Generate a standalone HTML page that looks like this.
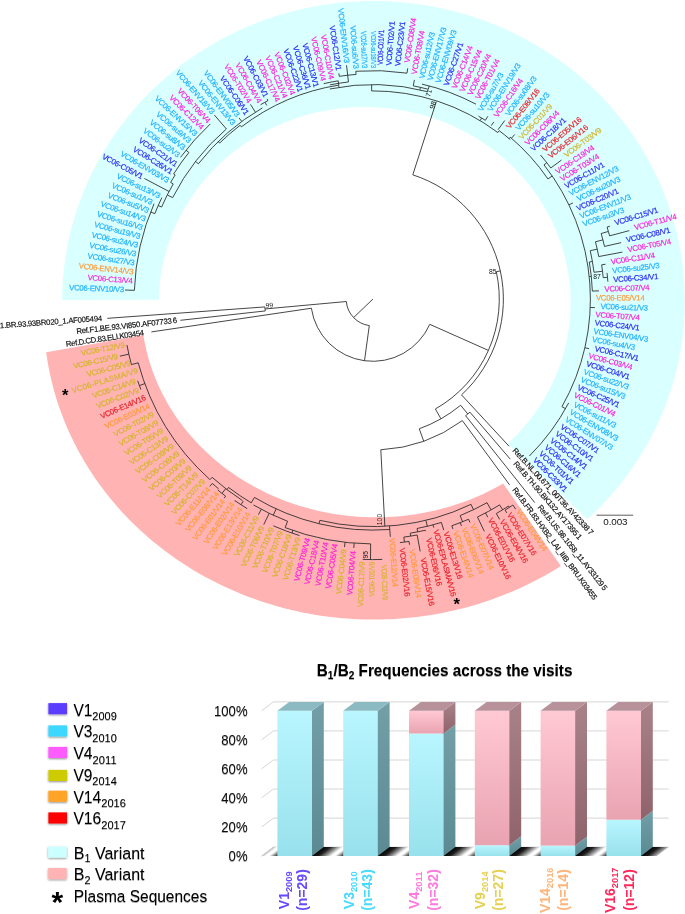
<!DOCTYPE html>
<html><head><meta charset="utf-8"><title>Figure</title>
<style>
html,body{margin:0;padding:0;background:#fff;}
body{width:685px;height:914px;position:relative;overflow:hidden;font-family:"Liberation Sans",sans-serif;}
svg text{font-family:"Liberation Sans",sans-serif;}
</style></head><body>
<svg xmlns="http://www.w3.org/2000/svg" width="685" height="914" viewBox="0 0 685 914" style="position:absolute;left:0;top:0">
<path d="M62.10 299.90L62.31 290.02L62.86 280.15L63.74 270.31L64.96 260.50L66.52 250.73L68.40 241.02L70.62 231.37L73.17 221.80L76.04 212.32L79.23 202.93L82.75 193.65L86.57 184.48L90.71 175.44L95.16 166.54L99.91 157.78L104.95 149.18L110.29 140.74L115.91 132.48L121.81 124.39L127.98 116.51L134.42 108.82L141.12 101.34L148.07 94.07L155.26 87.03L162.69 80.22L170.35 73.66L178.23 67.33L186.32 61.27L194.62 55.46L203.10 49.91L211.78 44.64L220.62 39.65L229.64 34.94L238.81 30.52L248.12 26.40L257.58 22.57L267.15 19.04L276.85 15.82L286.64 12.91L296.54 10.31L306.51 8.03L316.56 6.06L326.67 4.41L336.83 3.09L347.03 2.09L357.26 1.41L367.50 1.06L377.76 1.03L388.00 1.33L398.24 1.95L408.44 2.90L418.61 4.17L428.73 5.76L438.79 7.67L448.78 9.90L458.68 12.45L468.50 15.30L478.21 18.47L487.81 21.95L497.28 25.73L506.62 29.80L515.81 34.17L524.85 38.83L533.73 43.78L542.44 49.00L550.96 54.50L559.28 60.26L567.41 66.28L575.33 72.56L583.02 79.09L590.49 85.86L597.73 92.86L604.72 100.09L611.46 107.53L617.95 115.18L624.16 123.04L630.11 131.09L635.78 139.32L641.16 147.73L646.26 156.31L651.06 165.04L655.55 173.92L659.74 182.94L663.63 192.08L667.19 201.34L670.44 210.72L673.37 220.19L675.97 229.74L678.24 239.38L680.19 249.08L681.80 258.84L683.07 268.64L684.01 278.48L684.62 288.34L684.89 298.22L684.82 308.10L684.41 317.97L683.66 327.83L682.58 337.65L681.16 347.44L679.42 357.18L677.33 366.85L674.92 376.46L672.19 385.98L669.12 395.41L665.74 404.74L662.04 413.95L658.03 423.04L653.71 432.00L649.09 440.82L644.17 449.49L638.95 458.00L633.45 466.33L627.66 474.49L621.60 482.46L615.27 490.23L608.68 497.80L601.83 505.16L594.74 512.29L587.40 519.19L507.63 443.75L512.40 439.23L517.02 434.56L521.47 429.75L525.76 424.80L529.87 419.72L533.81 414.51L537.56 409.19L541.13 403.75L544.51 398.20L547.70 392.55L550.69 386.81L553.48 380.97L556.07 375.05L558.46 369.06L560.63 362.99L562.60 356.86L564.35 350.67L565.89 344.43L567.22 338.14L568.33 331.82L569.22 325.46L569.89 319.08L570.34 312.68L570.57 306.28L570.58 299.87L570.37 293.46L569.93 287.06L569.28 280.68L568.41 274.32L567.32 267.99L566.02 261.71L564.49 255.46L562.76 249.26L560.81 243.13L558.65 237.05L556.28 231.05L553.71 225.13L550.93 219.28L547.96 213.53L544.79 207.87L541.43 202.32L537.87 196.87L534.13 191.53L530.21 186.32L526.11 181.23L521.84 176.27L517.40 171.44L512.80 166.76L508.04 162.22L503.12 157.84L498.06 153.61L492.85 149.53L487.51 145.63L482.03 141.89L476.43 138.32L470.71 134.93L464.88 131.72L458.94 128.70L452.89 125.86L446.75 123.21L440.53 120.75L434.22 118.49L427.84 116.42L421.39 114.56L414.88 112.90L408.32 111.44L401.71 110.18L395.06 109.13L388.38 108.29L381.67 107.66L374.94 107.24L368.21 107.03L361.47 107.02L354.73 107.23L348.01 107.65L341.30 108.27L334.61 109.11L327.96 110.15L321.35 111.40L314.79 112.85L308.28 114.51L301.83 116.37L295.44 118.43L289.13 120.69L282.91 123.14L276.77 125.79L270.72 128.62L264.78 131.64L258.94 134.85L253.21 138.23L247.61 141.79L242.13 145.53L236.78 149.43L231.57 153.50L226.51 157.72L221.59 162.11L216.82 166.64L212.21 171.32L207.77 176.14L203.49 181.10L199.39 186.18L195.47 191.40L191.72 196.73L188.17 202.17L184.80 207.73L181.62 213.38L178.64 219.13L175.86 224.97L173.28 230.90L170.91 236.90L168.75 242.97L166.79 249.10L165.05 255.30L163.52 261.54L162.21 267.83L161.11 274.16L160.24 280.51L159.58 286.89L159.14 293.29L158.93 299.70Z" fill="#d9ffff"/>
<path d="M560.85 565.96L556.17 568.88L551.45 571.71L546.67 574.48L541.84 577.17L536.96 579.78L532.03 582.31L527.06 584.77L522.05 587.15L516.98 589.44L511.88 591.66L506.74 593.80L501.56 595.85L496.34 597.83L491.09 599.72L485.80 601.53L480.48 603.25L475.13 604.89L469.74 606.45L464.34 607.92L458.90 609.30L453.44 610.60L447.95 611.81L442.45 612.94L436.92 613.98L431.38 614.93L425.82 615.79L420.24 616.57L414.65 617.26L409.05 617.86L403.44 618.37L397.82 618.79L392.19 619.13L386.56 619.37L380.92 619.53L375.28 619.60L369.64 619.58L364.00 619.47L358.37 619.27L352.74 618.98L347.11 618.60L341.50 618.14L335.89 617.58L330.29 616.94L324.71 616.21L319.14 615.39L313.59 614.49L308.05 613.49L302.53 612.41L297.04 611.25L291.57 609.99L286.12 608.65L280.69 607.23L275.30 605.72L269.93 604.12L264.59 602.44L259.28 600.68L254.01 598.83L248.78 596.90L243.57 594.89L238.41 592.79L233.29 590.62L228.21 588.36L223.17 586.03L218.17 583.61L213.22 581.12L208.32 578.55L203.46 575.90L198.66 573.18L193.90 570.38L189.20 567.50L184.55 564.55L179.96 561.53L175.42 558.44L170.95 555.28L166.53 552.04L162.17 548.74L157.87 545.37L153.64 541.93L149.47 538.43L145.36 534.86L141.33 531.22L137.36 527.52L133.46 523.76L129.63 519.94L125.87 516.06L122.18 512.13L118.57 508.13L115.03 504.08L111.56 499.97L108.18 495.81L104.87 491.59L101.64 487.32L98.49 483.01L95.42 478.64L92.43 474.23L89.52 469.77L86.69 465.26L83.95 460.71L81.30 456.12L78.72 451.49L76.24 446.82L73.84 442.11L71.53 437.36L69.31 432.57L67.18 427.75L65.13 422.90L63.18 418.02L61.32 413.11L59.54 408.16L57.86 403.20L56.28 398.20L54.78 393.18L53.38 388.14L52.07 383.08L50.85 377.99L49.73 372.89L48.71 367.77L47.78 362.64L46.94 357.49L46.20 352.33L143.35 334.91L143.92 338.40L144.56 341.89L145.26 345.37L146.03 348.84L146.86 352.29L147.76 355.73L148.72 359.16L149.74 362.57L150.83 365.97L151.98 369.35L153.19 372.71L154.46 376.06L155.80 379.38L157.19 382.69L158.65 385.97L160.17 389.23L161.75 392.47L163.39 395.68L165.08 398.86L166.84 402.03L168.65 405.16L170.53 408.27L172.46 411.34L174.44 414.39L176.49 417.41L178.59 420.40L180.74 423.35L182.95 426.27L185.21 429.16L187.53 432.02L189.89 434.83L192.31 437.62L194.79 440.36L197.31 443.07L199.88 445.74L202.50 448.37L205.17 450.96L207.89 453.51L210.65 456.02L213.46 458.49L216.31 460.91L219.21 463.29L222.16 465.63L225.14 467.92L228.17 470.17L231.24 472.37L234.35 474.53L237.50 476.63L240.69 478.69L243.92 480.71L247.18 482.67L250.48 484.58L253.81 486.45L257.18 488.26L260.58 490.02L264.01 491.73L267.48 493.39L270.97 495.00L274.50 496.55L278.05 498.05L281.63 499.50L285.23 500.89L288.86 502.23L292.52 503.51L296.20 504.74L299.90 505.91L303.62 507.03L307.36 508.09L311.13 509.09L314.91 510.04L318.70 510.93L322.51 511.76L326.34 512.53L330.18 513.25L334.04 513.91L337.90 514.51L341.78 515.05L345.67 515.54L349.56 515.96L353.46 516.33L357.37 516.64L361.28 516.89L365.20 517.08L369.12 517.21L373.04 517.28L376.97 517.30L380.89 517.25L384.81 517.15L388.73 516.98L392.64 516.76L396.55 516.48L400.46 516.14L404.36 515.74L408.25 515.28L412.13 514.77L416.00 514.19L419.86 513.56L423.70 512.87L427.54 512.12L431.36 511.31L435.16 510.45L438.95 509.53L442.72 508.55L446.47 507.52L450.20 506.43L453.91 505.28L457.60 504.08L461.27 502.82L464.91 501.51L468.53 500.14L472.12 498.72L475.69 497.24L479.22 495.71L482.73 494.13L486.21 492.49L489.66 490.81L493.07 489.07L496.46 487.28L499.80 485.44L503.12 483.55Z" fill="#ffb3b3"/>
<path d="M412.79 174.85A130.50 130.50 0 0 1 461.53 394.88M412.79 174.85L436.30 101.63M461.53 394.88L509.08 446.26M469.94 412.17A149.00 149.00 0 0 1 465.64 415.72M469.94 412.17L510.25 459.14M465.64 415.72L534.73 502.60M462.34 420.64A150.90 150.90 0 0 1 380.82 449.79M462.34 420.64L509.57 484.83M380.82 449.79L384.84 526.29M460.61 405.25A137.70 137.70 0 0 1 419.27 428.76M460.61 405.25L467.80 413.97M419.27 428.76L423.71 441.19M496.31 271.76A126.40 126.40 0 0 1 435.37 408.98M496.31 271.76L500.31 270.88M435.37 408.98L440.96 418.80M429.75 324.34A62.20 62.20 0 0 1 311.37 308.22M429.75 324.34L488.42 350.40M311.37 308.22L151.42 331.92M265.25 310.95A108.30 108.30 0 0 1 264.88 306.92M265.25 310.95L180.36 320.30M264.88 306.92L107.29 318.33M369.30 325.56A26.70 26.70 0 0 1 346.31 301.53M369.30 325.56L364.50 360.73M346.31 301.53L265.05 308.94M372.90 299.10L353.61 317.56M134.36 290.35A238.70 238.70 0 0 1 154.06 203.77M134.36 290.35L125.07 290.01M150.65 212.02L154.84 213.66M154.84 213.66A234.20 234.20 0 0 1 161.84 197.60M158.19 205.56L161.58 207.04M161.58 207.04A230.50 230.50 0 0 1 173.22 183.95M169.06 191.50L144.38 178.47M167.27 194.95L172.63 197.66M172.63 197.66A224.50 224.50 0 0 1 226.41 128.98M226.41 128.98L214.34 114.96M173.22 183.95L170.63 182.45M170.63 182.45A233.50 233.50 0 0 1 175.13 174.96M175.13 174.96L173.61 174.01M173.61 174.01A235.30 235.30 0 0 1 188.88 152.47M188.88 152.47L185.98 150.16M180.54 157.26A239.00 239.00 0 0 1 210.28 123.95M195.50 161.51L198.43 163.78M198.43 163.78A220.80 220.80 0 0 1 262.46 107.90M241.74 121.48L239.06 117.86M255.38 112.17L250.49 104.38M266.78 105.47L265.00 102.23M260.61 104.70A224.50 224.50 0 0 1 267.96 100.64M267.96 100.64L267.03 98.87M218.18 141.57L219.65 143.07M219.65 143.07A218.70 218.70 0 0 1 240.17 125.28M240.17 125.28L241.38 126.87M241.38 126.87A216.70 216.70 0 0 1 338.60 85.13M338.60 85.13L338.95 87.30M329.87 88.96A214.50 214.50 0 0 1 427.68 91.71M371.63 84.60L371.67 90.90M323.71 83.64A221.00 221.00 0 0 1 338.32 80.82M338.16 80.85L338.84 85.09M329.86 84.88A218.50 218.50 0 0 1 348.44 81.97M348.44 81.97L347.68 75.22M339.32 76.32A225.30 225.30 0 0 1 356.07 74.43M339.32 76.32L338.87 73.35M347.68 75.22L346.56 65.28M356.07 74.43L355.83 71.24M355.83 71.24A228.50 228.50 0 0 1 406.99 73.16M406.99 73.16L407.72 68.31M371.59 90.90A208.20 208.20 0 0 1 497.85 132.56M413.28 85.89A217.00 217.00 0 0 1 428.32 89.30M413.28 85.89L414.41 79.90M420.44 87.37L419.89 89.81M422.01 84.14A220.50 220.50 0 0 1 476.00 104.19M429.22 85.91L428.32 89.30M478.56 116.23A211.20 211.20 0 0 1 485.33 120.31M480.08 120.61L481.63 118.04M485.33 120.31L487.89 116.25M491.26 125.64L493.80 121.92M497.97 129.78L504.80 120.53M511.45 138.24L514.72 134.46M497.85 132.56L499.23 130.72M499.23 130.72A210.50 210.50 0 0 1 510.28 139.61M510.25 137.21A212.30 212.30 0 0 1 547.93 178.95M509.08 138.58L510.25 137.21M547.93 178.95L552.22 176.01M544.03 164.86A217.50 217.50 0 0 1 561.94 406.66M544.03 164.86L546.79 162.70M540.49 155.03A221.00 221.00 0 0 1 550.79 167.97M550.79 167.97L561.42 160.13M568.92 204.86L572.98 202.91M607.07 227.06A245.00 245.00 0 0 1 609.60 235.87M607.07 227.06L609.94 226.18M609.60 235.87L629.31 230.61M608.38 231.45L601.17 233.52M601.17 233.52A237.50 237.50 0 0 1 604.49 246.43M604.49 246.43L621.16 242.64M602.90 239.87L595.44 241.79M595.44 241.79A229.80 229.80 0 0 1 598.73 256.56M598.73 256.56L622.41 252.10M597.21 249.15L590.27 250.69M590.27 250.69A222.70 222.70 0 0 1 593.98 272.28M593.98 272.28L602.52 271.25M601.65 264.82A231.30 231.30 0 0 1 603.21 277.70M601.65 264.82L605.60 264.22M603.21 277.70L607.49 277.30M607.04 272.92A235.60 235.60 0 0 1 607.86 281.70M592.40 261.48L589.34 262.01M589.34 262.01A219.60 219.60 0 0 1 592.35 291.08M592.35 291.08L598.95 290.84M589.23 276.55L591.32 276.33M590.24 307.43L594.94 307.61M584.90 347.72L589.09 348.68M561.94 406.66L565.51 408.69M568.70 402.88A221.60 221.60 0 0 1 529.39 456.00M471.07 504.33A227.50 227.50 0 0 1 319.87 520.33M470.99 504.37L473.54 509.69M487.03 502.70A233.40 233.40 0 0 1 460.27 515.53M487.03 502.70L491.08 509.94M499.66 504.89A241.70 241.70 0 0 1 477.44 517.02M477.44 517.02L484.32 531.36M485.52 512.96L487.76 517.21M499.66 504.89L502.65 509.75M508.51 506.02A247.40 247.40 0 0 1 496.29 513.54M496.29 513.54L499.68 519.43M508.51 506.02L509.39 507.36M512.87 505.03A249.00 249.00 0 0 1 505.07 510.13M505.07 510.13L506.82 512.92M512.87 505.03L515.68 509.17M460.11 515.60L462.57 521.72M468.54 519.22A240.00 240.00 0 0 1 451.81 525.76M468.54 519.22L469.93 522.43M460.24 522.64L461.51 525.91M451.81 525.76L452.96 529.06M425.90 520.34L427.32 526.27M441.40 522.43A233.60 233.60 0 0 1 417.07 528.49M441.40 522.43L443.78 530.17M433.00 524.84L433.74 527.64M417.07 528.49L417.71 531.83M425.26 530.24A237.00 237.00 0 0 1 410.29 533.13M425.26 530.24L425.48 531.22M410.20 533.15L410.67 536.11M417.13 534.99A240.00 240.00 0 0 1 403.83 537.10M417.13 534.99L420.21 551.40M403.83 537.10L404.47 542.06M409.01 541.42A245.00 245.00 0 0 1 399.92 542.61M409.01 541.42L409.50 544.69M389.51 525.99L389.77 529.48M389.77 529.48A231.00 231.00 0 0 1 254.46 497.43M389.77 529.48L390.31 536.86M319.87 520.33L319.06 523.74M370.64 543.89A244.80 244.80 0 0 1 285.16 527.63M370.64 543.89L370.50 559.59M382.19 559.43A260.50 260.50 0 0 1 362.70 559.40M354.17 543.18L353.80 547.97M345.05 542.31L344.51 547.08M299.47 535.56A247.60 247.60 0 0 1 273.44 525.85M293.06 529.99L291.99 533.11M287.59 521.29A238.00 238.00 0 0 1 253.48 504.97M287.59 521.29L285.16 527.63M276.17 508.87L273.24 515.23M269.21 513.33L263.76 524.58M261.27 509.30L258.45 514.60M254.46 497.43L251.23 502.84M251.23 502.84A237.30 237.30 0 0 1 228.54 487.44M228.54 487.44L226.90 489.58M242.53 500.60A240.00 240.00 0 0 1 212.26 477.41M243.28 501.09L240.96 504.71M246.86 508.38A244.30 244.30 0 0 1 234.86 500.67M246.86 508.38L246.50 508.98M234.86 500.67L234.47 501.24M225.67 496.18A246.00 246.00 0 0 1 217.68 489.95M225.69 488.65L222.01 493.39M225.67 496.18L224.17 498.18M218.63 488.79A244.50 244.50 0 0 1 212.33 483.49M212.33 483.49L209.84 486.35M212.13 477.29L209.98 479.67M209.78 479.48A243.20 243.20 0 0 1 138.19 362.79M144.85 383.58L139.41 385.60M140.90 389.52A249.00 249.00 0 0 1 137.68 380.77M138.19 362.79L131.43 364.62M131.43 364.62A250.20 250.20 0 0 1 126.95 345.00M128.84 354.17L119.86 356.20" fill="none" stroke="#262626" stroke-width="0.85"/>
<text x="123.87" y="289.97" transform="translate(123.87 289.97) rotate(2.10) translate(-123.87 -289.97)" text-anchor="end" dy="2.19" fill="#1fb0ff" stroke="#1fb0ff" stroke-width="0.17" font-size="7.80" letter-spacing="-0.29">VC06-ENV10/V3</text>
<text x="132.36" y="281.25" transform="translate(132.36 281.25) rotate(4.24) translate(-132.36 -281.25)" text-anchor="end" dy="2.19" fill="#ff1fd6" stroke="#ff1fd6" stroke-width="0.17" font-size="7.80" letter-spacing="-0.29">VC06-C13/V4</text>
<text x="133.20" y="272.26" transform="translate(133.20 272.26) rotate(6.39) translate(-133.20 -272.26)" text-anchor="end" dy="2.19" fill="#ff9a3c" stroke="#ff9a3c" stroke-width="0.17" font-size="7.80" letter-spacing="-0.29">VC06-ENV14/V3</text>
<text x="134.37" y="263.32" transform="translate(134.37 263.32) rotate(8.53) translate(-134.37 -263.32)" text-anchor="end" dy="2.19" fill="#1fb0ff" stroke="#1fb0ff" stroke-width="0.17" font-size="7.80" letter-spacing="-0.29">VC06-su27/V3</text>
<text x="135.88" y="254.42" transform="translate(135.88 254.42) rotate(10.68) translate(-135.88 -254.42)" text-anchor="end" dy="2.19" fill="#1fb0ff" stroke="#1fb0ff" stroke-width="0.17" font-size="7.80" letter-spacing="-0.29">VC06-su26/V3</text>
<text x="137.71" y="245.58" transform="translate(137.71 245.58) rotate(12.82) translate(-137.71 -245.58)" text-anchor="end" dy="2.19" fill="#1fb0ff" stroke="#1fb0ff" stroke-width="0.17" font-size="7.80" letter-spacing="-0.29">VC06-su24/V3</text>
<text x="139.88" y="236.82" transform="translate(139.88 236.82) rotate(14.96) translate(-139.88 -236.82)" text-anchor="end" dy="2.19" fill="#1fb0ff" stroke="#1fb0ff" stroke-width="0.17" font-size="7.80" letter-spacing="-0.29">VC06-su19/V3</text>
<text x="142.37" y="228.15" transform="translate(142.37 228.15) rotate(17.11) translate(-142.37 -228.15)" text-anchor="end" dy="2.19" fill="#1fb0ff" stroke="#1fb0ff" stroke-width="0.17" font-size="7.80" letter-spacing="-0.29">VC06-su16/V3</text>
<text x="145.19" y="219.57" transform="translate(145.19 219.57) rotate(19.25) translate(-145.19 -219.57)" text-anchor="end" dy="2.19" fill="#1fb0ff" stroke="#1fb0ff" stroke-width="0.17" font-size="7.80" letter-spacing="-0.29">VC06-su14/V3</text>
<text x="148.32" y="211.11" transform="translate(148.32 211.11) rotate(21.40) translate(-148.32 -211.11)" text-anchor="end" dy="2.19" fill="#1fb0ff" stroke="#1fb0ff" stroke-width="0.17" font-size="7.80" letter-spacing="-0.29">VC06-su5/V3</text>
<text x="151.77" y="202.77" transform="translate(151.77 202.77) rotate(23.54) translate(-151.77 -202.77)" text-anchor="end" dy="2.19" fill="#1fb0ff" stroke="#1fb0ff" stroke-width="0.17" font-size="7.80" letter-spacing="-0.29">VC06-su1/V3</text>
<text x="159.59" y="196.51" transform="translate(159.59 196.51) rotate(25.68) translate(-159.59 -196.51)" text-anchor="end" dy="2.19" fill="#1fb0ff" stroke="#1fb0ff" stroke-width="0.17" font-size="7.80" letter-spacing="-0.29">VC06-su13/V3</text>
<text x="142.17" y="177.31" transform="translate(142.17 177.31) rotate(27.83) translate(-142.17 -177.31)" text-anchor="end" dy="2.19" fill="#2828f5" stroke="#2828f5" stroke-width="0.17" font-size="7.80" letter-spacing="-0.29">VC06-C05/V1</text>
<text x="168.20" y="181.05" transform="translate(168.20 181.05) rotate(29.97) translate(-168.20 -181.05)" text-anchor="end" dy="2.19" fill="#1fb0ff" stroke="#1fb0ff" stroke-width="0.17" font-size="7.80" letter-spacing="-0.29">VC06-ENV03/V3</text>
<text x="171.49" y="172.68" transform="translate(171.49 172.68) rotate(32.12) translate(-171.49 -172.68)" text-anchor="end" dy="2.19" fill="#2828f5" stroke="#2828f5" stroke-width="0.17" font-size="7.80" letter-spacing="-0.29">VC06-C26/V1</text>
<text x="176.36" y="165.23" transform="translate(176.36 165.23) rotate(34.26) translate(-176.36 -165.23)" text-anchor="end" dy="2.19" fill="#2828f5" stroke="#2828f5" stroke-width="0.17" font-size="7.80" letter-spacing="-0.29">VC06-C21/V1</text>
<text x="178.53" y="155.78" transform="translate(178.53 155.78) rotate(36.40) translate(-178.53 -155.78)" text-anchor="end" dy="2.19" fill="#1fb0ff" stroke="#1fb0ff" stroke-width="0.17" font-size="7.80" letter-spacing="-0.29">VC06-su2/V3</text>
<text x="184.03" y="148.60" transform="translate(184.03 148.60) rotate(38.55) translate(-184.03 -148.60)" text-anchor="end" dy="2.19" fill="#1fb0ff" stroke="#1fb0ff" stroke-width="0.17" font-size="7.80" letter-spacing="-0.29">VC06-su8/V3</text>
<text x="189.79" y="141.64" transform="translate(189.79 141.64) rotate(40.69) translate(-189.79 -141.64)" text-anchor="end" dy="2.19" fill="#1fb0ff" stroke="#1fb0ff" stroke-width="0.17" font-size="7.80" letter-spacing="-0.29">VC06-su9/V3</text>
<text x="195.81" y="134.90" transform="translate(195.81 134.90) rotate(42.84) translate(-195.81 -134.90)" text-anchor="end" dy="2.19" fill="#1fb0ff" stroke="#1fb0ff" stroke-width="0.17" font-size="7.80" letter-spacing="-0.29">VC06-ENV15/V3</text>
<text x="202.07" y="128.39" transform="translate(202.07 128.39) rotate(44.98) translate(-202.07 -128.39)" text-anchor="end" dy="2.19" fill="#ff1fd6" stroke="#ff1fd6" stroke-width="0.17" font-size="7.80" letter-spacing="-0.29">VC06-C12/V4</text>
<text x="208.58" y="122.12" transform="translate(208.58 122.12) rotate(47.12) translate(-208.58 -122.12)" text-anchor="end" dy="2.19" fill="#ff1fd6" stroke="#ff1fd6" stroke-width="0.17" font-size="7.80" letter-spacing="-0.29">VC06-T06/V4</text>
<text x="212.71" y="113.07" transform="translate(212.71 113.07) rotate(49.27) translate(-212.71 -113.07)" text-anchor="end" dy="2.19" fill="#1fb0ff" stroke="#1fb0ff" stroke-width="0.17" font-size="7.80" letter-spacing="-0.29">VC06-ENV18/V3</text>
<text x="233.50" y="124.40" transform="translate(233.50 124.40) rotate(51.41) translate(-233.50 -124.40)" text-anchor="end" dy="2.19" fill="#1fb0ff" stroke="#1fb0ff" stroke-width="0.17" font-size="7.80" letter-spacing="-0.29">VC06-ENV13/V3</text>
<text x="237.58" y="115.85" transform="translate(237.58 115.85) rotate(53.56) translate(-237.58 -115.85)" text-anchor="end" dy="2.19" fill="#1fb0ff" stroke="#1fb0ff" stroke-width="0.17" font-size="7.80" letter-spacing="-0.29">VC06-ENV05/V3</text>
<text x="246.67" y="114.05" transform="translate(246.67 114.05) rotate(55.70) translate(-246.67 -114.05)" text-anchor="end" dy="2.19" fill="#2828f5" stroke="#2828f5" stroke-width="0.17" font-size="7.80" letter-spacing="-0.29">VC06-C06/V1</text>
<text x="249.16" y="102.27" transform="translate(249.16 102.27) rotate(57.84) translate(-249.16 -102.27)" text-anchor="end" dy="2.19" fill="#ff1fd6" stroke="#ff1fd6" stroke-width="0.17" font-size="7.80" letter-spacing="-0.29">VC06-T02/V4</text>
<text x="259.36" y="102.54" transform="translate(259.36 102.54) rotate(59.99) translate(-259.36 -102.54)" text-anchor="end" dy="2.19" fill="#ff1fd6" stroke="#ff1fd6" stroke-width="0.17" font-size="7.80" letter-spacing="-0.29">VC06-C04/V4</text>
<text x="265.86" y="96.66" transform="translate(265.86 96.66) rotate(62.13) translate(-265.86 -96.66)" text-anchor="end" dy="2.19" fill="#2828f5" stroke="#2828f5" stroke-width="0.17" font-size="7.80" letter-spacing="-0.29">VC06-C03/V1</text>
<text x="277.50" y="101.08" transform="translate(277.50 101.08) rotate(64.28) translate(-277.50 -101.08)" text-anchor="end" dy="2.19" fill="#ff1fd6" stroke="#ff1fd6" stroke-width="0.17" font-size="7.80" letter-spacing="-0.29">VC06-C17/V4</text>
<text x="284.97" y="97.65" transform="translate(284.97 97.65) rotate(66.42) translate(-284.97 -97.65)" text-anchor="end" dy="2.19" fill="#ff1fd6" stroke="#ff1fd6" stroke-width="0.17" font-size="7.80" letter-spacing="-0.29">VC06-C21/V4</text>
<text x="292.57" y="94.50" transform="translate(292.57 94.50) rotate(68.56) translate(-292.57 -94.50)" text-anchor="end" dy="2.19" fill="#ff1fd6" stroke="#ff1fd6" stroke-width="0.17" font-size="7.80" letter-spacing="-0.29">VC06-C02/V4</text>
<text x="300.28" y="91.64" transform="translate(300.28 91.64) rotate(70.71) translate(-300.28 -91.64)" text-anchor="end" dy="2.19" fill="#2828f5" stroke="#2828f5" stroke-width="0.17" font-size="7.80" letter-spacing="-0.29">VC06-C22/V1</text>
<text x="308.09" y="89.07" transform="translate(308.09 89.07) rotate(72.85) translate(-308.09 -89.07)" text-anchor="end" dy="2.19" fill="#2828f5" stroke="#2828f5" stroke-width="0.17" font-size="7.80" letter-spacing="-0.29">VC06-C36/V1</text>
<text x="316.00" y="86.79" transform="translate(316.00 86.79) rotate(75.00) translate(-316.00 -86.79)" text-anchor="end" dy="2.19" fill="#2828f5" stroke="#2828f5" stroke-width="0.17" font-size="7.80" letter-spacing="-0.29">VC06-C13/V1</text>
<text x="323.04" y="80.72" transform="translate(323.04 80.72) rotate(77.14) translate(-323.04 -80.72)" text-anchor="end" dy="2.19" fill="#ff1fd6" stroke="#ff1fd6" stroke-width="0.17" font-size="7.80" letter-spacing="-0.29">VC06-C09/V4</text>
<text x="331.25" y="79.01" transform="translate(331.25 79.01) rotate(79.28) translate(-331.25 -79.01)" text-anchor="end" dy="2.19" fill="#ff1fd6" stroke="#ff1fd6" stroke-width="0.17" font-size="7.80" letter-spacing="-0.29">VC06-C10/V4</text>
<text x="338.39" y="70.19" transform="translate(338.39 70.19) rotate(81.43) translate(-338.39 -70.19)" text-anchor="end" dy="2.19" fill="#2828f5" stroke="#2828f5" stroke-width="0.17" font-size="7.80" letter-spacing="-0.29">VC06-C12/V1</text>
<text x="346.28" y="62.79" transform="translate(346.28 62.79) rotate(83.57) translate(-346.28 -62.79)" text-anchor="end" dy="2.19" fill="#1fb0ff" stroke="#1fb0ff" stroke-width="0.17" font-size="7.80" letter-spacing="-0.29">VC06-ENV16/V3</text>
<text x="355.63" y="68.55" transform="translate(355.63 68.55) rotate(85.72) translate(-355.63 -68.55)" text-anchor="end" dy="2.19" fill="#1fb0ff" stroke="#1fb0ff" stroke-width="0.17" font-size="7.80" letter-spacing="-0.29">VC06-su6/V3</text>
<text x="364.27" y="68.06" transform="translate(364.27 68.06) rotate(87.86) scale(0.78 1) translate(-364.27 -68.06)" text-anchor="end" dy="2.19" fill="#1fb0ff" stroke="#1fb0ff" stroke-width="0.17" font-size="7.80" letter-spacing="-0.29">VC06-su17/V3</text>
<text x="372.92" y="67.90" transform="translate(372.92 67.90) rotate(90.00) scale(0.78 1) translate(-372.92 -67.90)" text-anchor="end" dy="2.19" fill="#1fb0ff" stroke="#1fb0ff" stroke-width="0.17" font-size="7.80" letter-spacing="-0.29">VC06-su18/V3</text>
<text x="381.68" y="65.06" transform="translate(381.68 65.06) rotate(272.15) scale(0.78 1) translate(-381.68 -65.06)" text-anchor="start" dy="1.09" fill="#2828f5" stroke="#2828f5" stroke-width="0.17" font-size="7.80" letter-spacing="-0.29">VC06-C01/V1</text>
<text x="390.43" y="65.56" transform="translate(390.43 65.56) rotate(274.29) translate(-390.43 -65.56)" text-anchor="start" dy="1.09" fill="#2828f5" stroke="#2828f5" stroke-width="0.17" font-size="7.80" letter-spacing="-0.29">VC06-T02/V1</text>
<text x="399.15" y="66.38" transform="translate(399.15 66.38) rotate(276.44) translate(-399.15 -66.38)" text-anchor="start" dy="1.09" fill="#2828f5" stroke="#2828f5" stroke-width="0.17" font-size="7.80" letter-spacing="-0.29">VC06-C23/V1</text>
<text x="408.54" y="62.87" transform="translate(408.54 62.87) rotate(278.58) translate(-408.54 -62.87)" text-anchor="start" dy="1.09" fill="#ff1fd6" stroke="#ff1fd6" stroke-width="0.17" font-size="7.80" letter-spacing="-0.29">VC06-C08/V4</text>
<text x="415.44" y="74.49" transform="translate(415.44 74.49) rotate(280.72) translate(-415.44 -74.49)" text-anchor="start" dy="1.09" fill="#ff1fd6" stroke="#ff1fd6" stroke-width="0.17" font-size="7.80" letter-spacing="-0.29">VC06-T08/V4</text>
<text x="423.23" y="78.78" transform="translate(423.23 78.78) rotate(282.87) translate(-423.23 -78.78)" text-anchor="start" dy="1.09" fill="#1fb0ff" stroke="#1fb0ff" stroke-width="0.17" font-size="7.80" letter-spacing="-0.29">VC06-su12/V3</text>
<text x="431.44" y="80.81" transform="translate(431.44 80.81) rotate(285.01) translate(-431.44 -80.81)" text-anchor="start" dy="1.09" fill="#1fb0ff" stroke="#1fb0ff" stroke-width="0.17" font-size="7.80" letter-spacing="-0.29">VC06-ENV17/V3</text>
<text x="439.56" y="83.16" transform="translate(439.56 83.16) rotate(287.16) translate(-439.56 -83.16)" text-anchor="start" dy="1.09" fill="#1fb0ff" stroke="#1fb0ff" stroke-width="0.17" font-size="7.80" letter-spacing="-0.29">VC06-ENV09/V3</text>
<text x="447.60" y="85.80" transform="translate(447.60 85.80) rotate(289.30) translate(-447.60 -85.80)" text-anchor="start" dy="1.09" fill="#2828f5" stroke="#2828f5" stroke-width="0.17" font-size="7.80" letter-spacing="-0.29">VC06-C27/V1</text>
<text x="455.52" y="88.74" transform="translate(455.52 88.74) rotate(291.44) translate(-455.52 -88.74)" text-anchor="start" dy="1.09" fill="#ff1fd6" stroke="#ff1fd6" stroke-width="0.17" font-size="7.80" letter-spacing="-0.29">VC06-C14/V4</text>
<text x="463.34" y="91.98" transform="translate(463.34 91.98) rotate(293.59) translate(-463.34 -91.98)" text-anchor="start" dy="1.09" fill="#ff1fd6" stroke="#ff1fd6" stroke-width="0.17" font-size="7.80" letter-spacing="-0.29">VC06-C15/V4</text>
<text x="471.02" y="95.51" transform="translate(471.02 95.51) rotate(295.73) translate(-471.02 -95.51)" text-anchor="start" dy="1.09" fill="#ff1fd6" stroke="#ff1fd6" stroke-width="0.17" font-size="7.80" letter-spacing="-0.29">VC06-C20/V4</text>
<text x="478.57" y="99.32" transform="translate(478.57 99.32) rotate(297.88) translate(-478.57 -99.32)" text-anchor="start" dy="1.09" fill="#ff1fd6" stroke="#ff1fd6" stroke-width="0.17" font-size="7.80" letter-spacing="-0.29">VC06-T01/V4</text>
<text x="481.32" y="111.47" transform="translate(481.32 111.47) rotate(300.02) translate(-481.32 -111.47)" text-anchor="start" dy="1.09" fill="#1fb0ff" stroke="#1fb0ff" stroke-width="0.17" font-size="7.80" letter-spacing="-0.29">VC06-su7/V3</text>
<text x="490.92" y="111.42" transform="translate(490.92 111.42) rotate(302.16) translate(-490.92 -111.42)" text-anchor="start" dy="1.09" fill="#1fb0ff" stroke="#1fb0ff" stroke-width="0.17" font-size="7.80" letter-spacing="-0.29">VC06-ENV19/V3</text>
<text x="496.96" y="117.29" transform="translate(496.96 117.29) rotate(304.31) translate(-496.96 -117.29)" text-anchor="start" dy="1.09" fill="#ff1fd6" stroke="#ff1fd6" stroke-width="0.17" font-size="7.80" letter-spacing="-0.29">VC06-C16/V4</text>
<text x="508.07" y="116.11" transform="translate(508.07 116.11) rotate(306.45) translate(-508.07 -116.11)" text-anchor="start" dy="1.09" fill="#1fb0ff" stroke="#1fb0ff" stroke-width="0.17" font-size="7.80" letter-spacing="-0.29">VC06-su08/V3</text>
<text x="508.96" y="128.64" transform="translate(508.96 128.64) rotate(308.60) translate(-508.96 -128.64)" text-anchor="start" dy="1.09" fill="#e8222c" stroke="#e8222c" stroke-width="0.17" font-size="7.80" letter-spacing="-0.29">VC06-E08/V16</text>
<text x="518.31" y="130.29" transform="translate(518.31 130.29) rotate(310.74) translate(-518.31 -130.29)" text-anchor="start" dy="1.09" fill="#1fb0ff" stroke="#1fb0ff" stroke-width="0.17" font-size="7.80" letter-spacing="-0.29">VC06-su10/V3</text>
<text x="521.32" y="139.29" transform="translate(521.32 139.29) rotate(312.88) translate(-521.32 -139.29)" text-anchor="start" dy="1.09" fill="#d4b42c" stroke="#d4b42c" stroke-width="0.17" font-size="7.80" letter-spacing="-0.29">VC06-C01/V9</text>
<text x="527.20" y="144.96" transform="translate(527.20 144.96) rotate(315.03) translate(-527.20 -144.96)" text-anchor="start" dy="1.09" fill="#ff1fd6" stroke="#ff1fd6" stroke-width="0.17" font-size="7.80" letter-spacing="-0.29">VC06-C06/V4</text>
<text x="532.85" y="150.84" transform="translate(532.85 150.84) rotate(317.17) translate(-532.85 -150.84)" text-anchor="start" dy="1.09" fill="#2828f5" stroke="#2828f5" stroke-width="0.17" font-size="7.80" letter-spacing="-0.29">VC06-C18/V1</text>
<text x="544.66" y="151.45" transform="translate(544.66 151.45) rotate(319.32) translate(-544.66 -151.45)" text-anchor="start" dy="1.09" fill="#e8222c" stroke="#e8222c" stroke-width="0.17" font-size="7.80" letter-spacing="-0.29">VC06-E05/V16</text>
<text x="550.06" y="157.98" transform="translate(550.06 157.98) rotate(321.46) translate(-550.06 -157.98)" text-anchor="start" dy="1.09" fill="#e8222c" stroke="#e8222c" stroke-width="0.17" font-size="7.80" letter-spacing="-0.29">VC06-E06/V16</text>
<text x="565.84" y="156.87" transform="translate(565.84 156.87) rotate(323.60) translate(-565.84 -156.87)" text-anchor="start" dy="1.09" fill="#d4b42c" stroke="#d4b42c" stroke-width="0.17" font-size="7.80" letter-spacing="-0.29">VC06-T03/V9</text>
<text x="557.23" y="173.59" transform="translate(557.23 173.59) rotate(325.75) translate(-557.23 -173.59)" text-anchor="start" dy="1.09" fill="#ff1fd6" stroke="#ff1fd6" stroke-width="0.17" font-size="7.80" letter-spacing="-0.29">VC06-C19/V4</text>
<text x="561.79" y="180.57" transform="translate(561.79 180.57) rotate(327.89) translate(-561.79 -180.57)" text-anchor="start" dy="1.09" fill="#ff1fd6" stroke="#ff1fd6" stroke-width="0.17" font-size="7.80" letter-spacing="-0.29">VC06-T03/V4</text>
<text x="566.09" y="187.72" transform="translate(566.09 187.72) rotate(330.04) translate(-566.09 -187.72)" text-anchor="start" dy="1.09" fill="#2828f5" stroke="#2828f5" stroke-width="0.17" font-size="7.80" letter-spacing="-0.29">VC06-C11/V1</text>
<text x="570.13" y="195.03" transform="translate(570.13 195.03) rotate(332.18) translate(-570.13 -195.03)" text-anchor="start" dy="1.09" fill="#1fb0ff" stroke="#1fb0ff" stroke-width="0.17" font-size="7.80" letter-spacing="-0.29">VC06-ENV12/V3</text>
<text x="577.94" y="200.53" transform="translate(577.94 200.53) rotate(334.32) translate(-577.94 -200.53)" text-anchor="start" dy="1.09" fill="#1fb0ff" stroke="#1fb0ff" stroke-width="0.17" font-size="7.80" letter-spacing="-0.29">VC06-su20/V3</text>
<text x="577.35" y="210.06" transform="translate(577.35 210.06) rotate(336.47) translate(-577.35 -210.06)" text-anchor="start" dy="1.09" fill="#2828f5" stroke="#2828f5" stroke-width="0.17" font-size="7.80" letter-spacing="-0.29">VC06-C20/V1</text>
<text x="580.54" y="217.78" transform="translate(580.54 217.78) rotate(338.61) translate(-580.54 -217.78)" text-anchor="start" dy="1.09" fill="#1fb0ff" stroke="#1fb0ff" stroke-width="0.17" font-size="7.80" letter-spacing="-0.29">VC06-ENV11/V3</text>
<text x="583.44" y="225.60" transform="translate(583.44 225.60) rotate(340.76) translate(-583.44 -225.60)" text-anchor="start" dy="1.09" fill="#1fb0ff" stroke="#1fb0ff" stroke-width="0.17" font-size="7.80" letter-spacing="-0.29">VC06-su3/V3</text>
<text x="615.19" y="224.56" transform="translate(615.19 224.56) rotate(342.90) translate(-615.19 -224.56)" text-anchor="start" dy="1.09" fill="#2828f5" stroke="#2828f5" stroke-width="0.17" font-size="7.80" letter-spacing="-0.29">VC06-C15/V1</text>
<text x="634.62" y="229.19" transform="translate(634.62 229.19) rotate(345.04) translate(-634.62 -229.19)" text-anchor="start" dy="1.09" fill="#ff1fd6" stroke="#ff1fd6" stroke-width="0.17" font-size="7.80" letter-spacing="-0.29">VC06-T11/V4</text>
<text x="626.52" y="241.42" transform="translate(626.52 241.42) rotate(347.19) translate(-626.52 -241.42)" text-anchor="start" dy="1.09" fill="#2828f5" stroke="#2828f5" stroke-width="0.17" font-size="7.80" letter-spacing="-0.29">VC06-C08/V1</text>
<text x="627.82" y="251.08" transform="translate(627.82 251.08) rotate(349.33) translate(-627.82 -251.08)" text-anchor="start" dy="1.09" fill="#ff1fd6" stroke="#ff1fd6" stroke-width="0.17" font-size="7.80" letter-spacing="-0.29">VC06-T05/V4</text>
<text x="611.04" y="263.41" transform="translate(611.04 263.41) rotate(351.48) translate(-611.04 -263.41)" text-anchor="start" dy="1.09" fill="#ff1fd6" stroke="#ff1fd6" stroke-width="0.17" font-size="7.80" letter-spacing="-0.29">VC06-C11/V4</text>
<text x="612.51" y="272.31" transform="translate(612.51 272.31) rotate(353.62) translate(-612.51 -272.31)" text-anchor="start" dy="1.09" fill="#1fb0ff" stroke="#1fb0ff" stroke-width="0.17" font-size="7.80" letter-spacing="-0.29">VC06-su25/V3</text>
<text x="613.34" y="281.29" transform="translate(613.34 281.29) rotate(355.76) translate(-613.34 -281.29)" text-anchor="start" dy="1.09" fill="#2828f5" stroke="#2828f5" stroke-width="0.17" font-size="7.80" letter-spacing="-0.29">VC06-C34/V1</text>
<text x="604.45" y="290.64" transform="translate(604.45 290.64) rotate(357.91) translate(-604.45 -290.64)" text-anchor="start" dy="1.09" fill="#ff1fd6" stroke="#ff1fd6" stroke-width="0.17" font-size="7.80" letter-spacing="-0.29">VC06-C07/V4</text>
<text x="595.90" y="299.30" transform="translate(595.90 299.30) rotate(0.05) translate(-595.90 -299.30)" text-anchor="start" dy="1.09" fill="#ff9a3c" stroke="#ff9a3c" stroke-width="0.17" font-size="7.80" letter-spacing="-0.29">VC06-E05/V14</text>
<text x="600.43" y="307.83" transform="translate(600.43 307.83) rotate(2.20) translate(-600.43 -307.83)" text-anchor="start" dy="1.09" fill="#1fb0ff" stroke="#1fb0ff" stroke-width="0.17" font-size="7.80" letter-spacing="-0.29">VC06-su21/V3</text>
<text x="595.36" y="315.98" transform="translate(595.36 315.98) rotate(4.34) translate(-595.36 -315.98)" text-anchor="start" dy="1.09" fill="#ff1fd6" stroke="#ff1fd6" stroke-width="0.17" font-size="7.80" letter-spacing="-0.29">VC06-T07/V4</text>
<text x="594.57" y="324.29" transform="translate(594.57 324.29) rotate(6.48) translate(-594.57 -324.29)" text-anchor="start" dy="1.09" fill="#2828f5" stroke="#2828f5" stroke-width="0.17" font-size="7.80" letter-spacing="-0.29">VC06-C24/V1</text>
<text x="593.48" y="332.57" transform="translate(593.48 332.57) rotate(8.63) translate(-593.48 -332.57)" text-anchor="start" dy="1.09" fill="#1fb0ff" stroke="#1fb0ff" stroke-width="0.17" font-size="7.80" letter-spacing="-0.29">VC06-ENV04/V3</text>
<text x="592.07" y="340.80" transform="translate(592.07 340.80) rotate(10.77) translate(-592.07 -340.80)" text-anchor="start" dy="1.09" fill="#1fb0ff" stroke="#1fb0ff" stroke-width="0.17" font-size="7.80" letter-spacing="-0.29">VC06-su4/V3</text>
<text x="594.45" y="349.91" transform="translate(594.45 349.91) rotate(12.92) translate(-594.45 -349.91)" text-anchor="start" dy="1.09" fill="#2828f5" stroke="#2828f5" stroke-width="0.17" font-size="7.80" letter-spacing="-0.29">VC06-C17/V1</text>
<text x="588.34" y="357.07" transform="translate(588.34 357.07) rotate(15.06) translate(-588.34 -357.07)" text-anchor="start" dy="1.09" fill="#ff1fd6" stroke="#ff1fd6" stroke-width="0.17" font-size="7.80" letter-spacing="-0.29">VC06-C03/V4</text>
<text x="586.02" y="365.09" transform="translate(586.02 365.09) rotate(17.20) translate(-586.02 -365.09)" text-anchor="start" dy="1.09" fill="#2828f5" stroke="#2828f5" stroke-width="0.17" font-size="7.80" letter-spacing="-0.29">VC06-C04/V1</text>
<text x="583.40" y="373.01" transform="translate(583.40 373.01) rotate(19.35) translate(-583.40 -373.01)" text-anchor="start" dy="1.09" fill="#1fb0ff" stroke="#1fb0ff" stroke-width="0.17" font-size="7.80" letter-spacing="-0.29">VC06-su22/V3</text>
<text x="580.49" y="380.84" transform="translate(580.49 380.84) rotate(21.49) translate(-580.49 -380.84)" text-anchor="start" dy="1.09" fill="#1fb0ff" stroke="#1fb0ff" stroke-width="0.17" font-size="7.80" letter-spacing="-0.29">VC06-su15/V3</text>
<text x="577.28" y="388.55" transform="translate(577.28 388.55) rotate(23.64) translate(-577.28 -388.55)" text-anchor="start" dy="1.09" fill="#2828f5" stroke="#2828f5" stroke-width="0.17" font-size="7.80" letter-spacing="-0.29">VC06-C25/V1</text>
<text x="573.79" y="396.13" transform="translate(573.79 396.13) rotate(25.78) translate(-573.79 -396.13)" text-anchor="start" dy="1.09" fill="#ff1fd6" stroke="#ff1fd6" stroke-width="0.17" font-size="7.80" letter-spacing="-0.29">VC06-C01/V4</text>
<text x="573.56" y="405.45" transform="translate(573.56 405.45) rotate(27.92) translate(-573.56 -405.45)" text-anchor="start" dy="1.09" fill="#1fb0ff" stroke="#1fb0ff" stroke-width="0.17" font-size="7.80" letter-spacing="-0.29">VC06-su11/V3</text>
<text x="569.44" y="412.88" transform="translate(569.44 412.88) rotate(30.07) translate(-569.44 -412.88)" text-anchor="start" dy="1.09" fill="#1fb0ff" stroke="#1fb0ff" stroke-width="0.17" font-size="7.80" letter-spacing="-0.29">VC06-ENV08/V3</text>
<text x="565.05" y="420.16" transform="translate(565.05 420.16) rotate(32.21) translate(-565.05 -420.16)" text-anchor="start" dy="1.09" fill="#1fb0ff" stroke="#1fb0ff" stroke-width="0.17" font-size="7.80" letter-spacing="-0.29">VC06-ENV07/V3</text>
<text x="560.38" y="427.26" transform="translate(560.38 427.26) rotate(34.36) translate(-560.38 -427.26)" text-anchor="start" dy="1.09" fill="#2828f5" stroke="#2828f5" stroke-width="0.17" font-size="7.80" letter-spacing="-0.29">VC06-C07/V1</text>
<text x="555.46" y="434.18" transform="translate(555.46 434.18) rotate(36.50) translate(-555.46 -434.18)" text-anchor="start" dy="1.09" fill="#2828f5" stroke="#2828f5" stroke-width="0.17" font-size="7.80" letter-spacing="-0.29">VC06-C10/V1</text>
<text x="550.27" y="440.92" transform="translate(550.27 440.92) rotate(38.64) translate(-550.27 -440.92)" text-anchor="start" dy="1.09" fill="#2828f5" stroke="#2828f5" stroke-width="0.17" font-size="7.80" letter-spacing="-0.29">VC06-C14/V1</text>
<text x="544.84" y="447.46" transform="translate(544.84 447.46) rotate(40.79) translate(-544.84 -447.46)" text-anchor="start" dy="1.09" fill="#2828f5" stroke="#2828f5" stroke-width="0.17" font-size="7.80" letter-spacing="-0.29">VC06-C16/V1</text>
<text x="539.17" y="453.78" transform="translate(539.17 453.78) rotate(42.93) translate(-539.17 -453.78)" text-anchor="start" dy="1.09" fill="#2828f5" stroke="#2828f5" stroke-width="0.17" font-size="7.80" letter-spacing="-0.29">VC06-T01/V1</text>
<text x="533.27" y="459.90" transform="translate(533.27 459.90) rotate(45.08) translate(-533.27 -459.90)" text-anchor="start" dy="1.09" fill="#2828f5" stroke="#2828f5" stroke-width="0.17" font-size="7.80" letter-spacing="-0.29">VC06-C33/V1</text>
<text x="512.81" y="450.30" transform="translate(512.81 450.30) rotate(47.22) translate(-512.81 -450.30)" text-anchor="start" dy="1.09" fill="#111" stroke="#111" stroke-width="0.17" font-size="7.80" letter-spacing="-0.29">Ref.B.NL.00.671_00T36.AY42338<tspan dx="1.4">7</tspan></text>
<text x="513.83" y="463.32" transform="translate(513.83 463.32) rotate(49.36) translate(-513.83 -463.32)" text-anchor="start" dy="1.09" fill="#111" stroke="#111" stroke-width="0.17" font-size="7.80" letter-spacing="-0.29">Ref.B.TH.90.BK132.AY17395<tspan dx="1.4">1</tspan></text>
<text x="538.15" y="506.91" transform="translate(538.15 506.91) rotate(51.51) translate(-538.15 -506.91)" text-anchor="start" dy="1.09" fill="#111" stroke="#111" stroke-width="0.17" font-size="7.80" letter-spacing="-0.29">Ref.B.US.98.1058_11.AY33129<tspan dx="1.4">5</tspan></text>
<text x="512.83" y="489.26" transform="translate(512.83 489.26) rotate(53.65) translate(-512.83 -489.26)" text-anchor="start" dy="1.09" fill="#111" stroke="#111" stroke-width="0.17" font-size="7.80" letter-spacing="-0.29">Ref.B.FR.83.HXB2_LAI_IIIB_BRU.K03455</text>
<text x="516.81" y="510.82" transform="translate(516.81 510.82) rotate(55.80) translate(-516.81 -510.82)" text-anchor="start" dy="1.09" fill="#ff9a3c" stroke="#ff9a3c" stroke-width="0.17" font-size="7.80" letter-spacing="-0.29">VC06-E04/V14</text>
<text x="507.57" y="514.11" transform="translate(507.57 514.11) rotate(57.94) translate(-507.57 -514.11)" text-anchor="start" dy="1.09" fill="#e8222c" stroke="#e8222c" stroke-width="0.17" font-size="7.80" letter-spacing="-0.29">VC06-E07/V16</text>
<text x="500.57" y="520.99" transform="translate(500.57 520.99) rotate(60.08) translate(-500.57 -520.99)" text-anchor="start" dy="1.09" fill="#e8222c" stroke="#e8222c" stroke-width="0.17" font-size="7.80" letter-spacing="-0.29">VC06-E04/V16</text>
<text x="488.83" y="519.24" transform="translate(488.83 519.24) rotate(62.23) translate(-488.83 -519.24)" text-anchor="start" dy="1.09" fill="#e8222c" stroke="#e8222c" stroke-width="0.17" font-size="7.80" letter-spacing="-0.29">VC06-E01/V16</text>
<text x="486.22" y="535.32" transform="translate(486.22 535.32) rotate(64.37) translate(-486.22 -535.32)" text-anchor="start" dy="1.09" fill="#e8222c" stroke="#e8222c" stroke-width="0.17" font-size="7.80" letter-spacing="-0.29">VC06-E10/V16</text>
<text x="471.09" y="525.09" transform="translate(471.09 525.09) rotate(66.52) translate(-471.09 -525.09)" text-anchor="start" dy="1.09" fill="#ff9a3c" stroke="#ff9a3c" stroke-width="0.17" font-size="7.80" letter-spacing="-0.29">VC06-E07/V14</text>
<text x="462.57" y="528.61" transform="translate(462.57 528.61) rotate(68.66) translate(-462.57 -528.61)" text-anchor="start" dy="1.09" fill="#ff9a3c" stroke="#ff9a3c" stroke-width="0.17" font-size="7.80" letter-spacing="-0.29">VC06-E08/V14</text>
<text x="453.92" y="531.80" transform="translate(453.92 531.80) rotate(70.80) translate(-453.92 -531.80)" text-anchor="start" dy="1.09" fill="#ff9a3c" stroke="#ff9a3c" stroke-width="0.17" font-size="7.80" letter-spacing="-0.29">VC06-E14/V14</text>
<text x="444.51" y="532.56" transform="translate(444.51 532.56) rotate(72.95) translate(-444.51 -532.56)" text-anchor="start" dy="1.09" fill="#e8222c" stroke="#e8222c" stroke-width="0.17" font-size="7.80" letter-spacing="-0.29">VC06-E13/V16</text>
<text x="434.41" y="530.15" transform="translate(434.41 530.15) rotate(75.09) translate(-434.41 -530.15)" text-anchor="start" dy="1.09" fill="#e8222c" stroke="#e8222c" stroke-width="0.17" font-size="7.80" letter-spacing="-0.41">VC06-EPLASMA/V16</text>
<text x="427.14" y="538.53" transform="translate(427.14 538.53) rotate(77.24) translate(-427.14 -538.53)" text-anchor="start" dy="1.09" fill="#e8222c" stroke="#e8222c" stroke-width="0.17" font-size="7.80" letter-spacing="-0.29">VC06-E06/V16</text>
<text x="421.46" y="558.09" transform="translate(421.46 558.09) rotate(79.38) translate(-421.46 -558.09)" text-anchor="start" dy="1.09" fill="#e8222c" stroke="#e8222c" stroke-width="0.17" font-size="7.80" letter-spacing="-0.29">VC06-E15/V16</text>
<text x="410.22" y="549.53" transform="translate(410.22 549.53) rotate(81.52) translate(-410.22 -549.53)" text-anchor="start" dy="1.09" fill="#ff9a3c" stroke="#ff9a3c" stroke-width="0.17" font-size="7.80" letter-spacing="-0.29">VC06-E09/V14</text>
<text x="400.53" y="548.07" transform="translate(400.53 548.07) rotate(83.67) translate(-400.53 -548.07)" text-anchor="start" dy="1.09" fill="#e8222c" stroke="#e8222c" stroke-width="0.17" font-size="7.80" letter-spacing="-0.29">VC06-E02/V16</text>
<text x="390.41" y="538.26" transform="translate(390.41 538.26) rotate(85.81) translate(-390.41 -538.26)" text-anchor="start" dy="1.09" fill="#ff9a3c" stroke="#ff9a3c" stroke-width="0.17" font-size="7.80" letter-spacing="-0.29">VC06-E12/V14</text>
<text x="382.39" y="564.93" transform="translate(382.39 564.93) rotate(87.96) scale(0.78 1) translate(-382.39 -564.93)" text-anchor="start" dy="1.09" fill="#d4b42c" stroke="#d4b42c" stroke-width="0.17" font-size="7.80" letter-spacing="-0.29">VC06-C12/V9</text>
<text x="372.44" y="562.10" transform="translate(372.44 562.10) rotate(270.10) scale(0.78 1) translate(-372.44 -562.10)" text-anchor="end" dy="2.19" fill="#d4b42c" stroke="#d4b42c" stroke-width="0.17" font-size="7.80" letter-spacing="-0.29">VC06-T01/V9</text>
<text x="362.60" y="561.90" transform="translate(362.60 561.90) rotate(272.24) translate(-362.60 -561.90)" text-anchor="end" dy="2.19" fill="#d4b42c" stroke="#d4b42c" stroke-width="0.17" font-size="7.80" letter-spacing="-0.29">VC06-C17/V9</text>
<text x="353.55" y="551.26" transform="translate(353.55 551.26) rotate(274.39) translate(-353.55 -551.26)" text-anchor="end" dy="2.19" fill="#ff1fd6" stroke="#ff1fd6" stroke-width="0.17" font-size="7.80" letter-spacing="-0.29">VC06-T04/V4</text>
<text x="344.22" y="549.56" transform="translate(344.22 549.56) rotate(276.53) translate(-344.22 -549.56)" text-anchor="end" dy="2.19" fill="#d4b42c" stroke="#d4b42c" stroke-width="0.17" font-size="7.80" letter-spacing="-0.29">VC06-C04/V9</text>
<text x="335.49" y="544.26" transform="translate(335.49 544.26) rotate(278.68) translate(-335.49 -544.26)" text-anchor="end" dy="2.19" fill="#ff1fd6" stroke="#ff1fd6" stroke-width="0.17" font-size="7.80" letter-spacing="-0.29">VC06-C05/V4</text>
<text x="326.34" y="542.69" transform="translate(326.34 542.69) rotate(280.82) translate(-326.34 -542.69)" text-anchor="end" dy="2.19" fill="#ff1fd6" stroke="#ff1fd6" stroke-width="0.17" font-size="7.80" letter-spacing="-0.29">VC06-T10/V4</text>
<text x="317.26" y="540.78" transform="translate(317.26 540.78) rotate(282.96) translate(-317.26 -540.78)" text-anchor="end" dy="2.19" fill="#ff1fd6" stroke="#ff1fd6" stroke-width="0.17" font-size="7.80" letter-spacing="-0.29">VC06-C18/V4</text>
<text x="308.26" y="538.53" transform="translate(308.26 538.53) rotate(285.11) translate(-308.26 -538.53)" text-anchor="end" dy="2.19" fill="#ff1fd6" stroke="#ff1fd6" stroke-width="0.17" font-size="7.80" letter-spacing="-0.29">VC06-T09/V4</text>
<text x="298.73" y="537.95" transform="translate(298.73 537.95) rotate(287.25) translate(-298.73 -537.95)" text-anchor="end" dy="2.19" fill="#d4b42c" stroke="#d4b42c" stroke-width="0.17" font-size="7.80" letter-spacing="-0.29">VC06-T13/V9</text>
<text x="289.84" y="535.01" transform="translate(289.84 535.01) rotate(289.40) translate(-289.84 -535.01)" text-anchor="end" dy="2.19" fill="#d4b42c" stroke="#d4b42c" stroke-width="0.17" font-size="7.80" letter-spacing="-0.29">VC06-C18/V9</text>
<text x="281.08" y="531.73" transform="translate(281.08 531.73) rotate(291.54) translate(-281.08 -531.73)" text-anchor="end" dy="2.19" fill="#d4b42c" stroke="#d4b42c" stroke-width="0.17" font-size="7.80" letter-spacing="-0.29">VC06-T07/V9</text>
<text x="272.44" y="528.14" transform="translate(272.44 528.14) rotate(293.68) translate(-272.44 -528.14)" text-anchor="end" dy="2.19" fill="#d4b42c" stroke="#d4b42c" stroke-width="0.17" font-size="7.80" letter-spacing="-0.29">VC06-T10/V9</text>
<text x="262.68" y="526.83" transform="translate(262.68 526.83) rotate(295.83) translate(-262.68 -526.83)" text-anchor="end" dy="2.19" fill="#d4b42c" stroke="#d4b42c" stroke-width="0.17" font-size="7.80" letter-spacing="-0.29">VC06-T06/V9</text>
<text x="257.28" y="516.80" transform="translate(257.28 516.80) rotate(297.97) translate(-257.28 -516.80)" text-anchor="end" dy="2.19" fill="#d4b42c" stroke="#d4b42c" stroke-width="0.17" font-size="7.80" letter-spacing="-0.29">VC06-C11/V9</text>
<text x="248.72" y="513.19" transform="translate(248.72 513.19) rotate(300.12) translate(-248.72 -513.19)" text-anchor="end" dy="2.19" fill="#ff9a3c" stroke="#ff9a3c" stroke-width="0.17" font-size="7.80" letter-spacing="-0.29">VC06-E10/V14</text>
<text x="240.79" y="508.39" transform="translate(240.79 508.39) rotate(302.26) translate(-240.79 -508.39)" text-anchor="end" dy="2.19" fill="#ff9a3c" stroke="#ff9a3c" stroke-width="0.17" font-size="7.80" letter-spacing="-0.29">VC06-E13/V14</text>
<text x="233.06" y="503.31" transform="translate(233.06 503.31) rotate(304.40) translate(-233.06 -503.31)" text-anchor="end" dy="2.19" fill="#ff9a3c" stroke="#ff9a3c" stroke-width="0.17" font-size="7.80" letter-spacing="-0.29">VC06-E02/V14</text>
<text x="223.43" y="500.74" transform="translate(223.43 500.74) rotate(306.55) translate(-223.43 -500.74)" text-anchor="end" dy="2.19" fill="#ff9a3c" stroke="#ff9a3c" stroke-width="0.17" font-size="7.80" letter-spacing="-0.29">VC06-E01/V14</text>
<text x="217.55" y="493.06" transform="translate(217.55 493.06) rotate(308.69) translate(-217.55 -493.06)" text-anchor="end" dy="2.19" fill="#ff9a3c" stroke="#ff9a3c" stroke-width="0.17" font-size="7.80" letter-spacing="-0.29">VC06-E06/V14</text>
<text x="208.90" y="488.85" transform="translate(208.90 488.85) rotate(310.84) translate(-208.90 -488.85)" text-anchor="end" dy="2.19" fill="#ff9a3c" stroke="#ff9a3c" stroke-width="0.17" font-size="7.80" letter-spacing="-0.29">VC06-E11/V14</text>
<text x="203.83" y="480.53" transform="translate(203.83 480.53) rotate(312.98) translate(-203.83 -480.53)" text-anchor="end" dy="2.19" fill="#d4b42c" stroke="#d4b42c" stroke-width="0.17" font-size="7.80" letter-spacing="-0.29">VC06-C07/V9</text>
<text x="197.16" y="474.08" transform="translate(197.16 474.08) rotate(315.12) translate(-197.16 -474.08)" text-anchor="end" dy="2.19" fill="#d4b42c" stroke="#d4b42c" stroke-width="0.17" font-size="7.80" letter-spacing="-0.29">VC06-T14/V9</text>
<text x="190.74" y="467.39" transform="translate(190.74 467.39) rotate(317.27) translate(-190.74 -467.39)" text-anchor="end" dy="2.19" fill="#d4b42c" stroke="#d4b42c" stroke-width="0.17" font-size="7.80" letter-spacing="-0.29">VC06-T09/V9</text>
<text x="184.57" y="460.45" transform="translate(184.57 460.45) rotate(319.41) translate(-184.57 -460.45)" text-anchor="end" dy="2.19" fill="#d4b42c" stroke="#d4b42c" stroke-width="0.17" font-size="7.80" letter-spacing="-0.29">VC06-C03/V9</text>
<text x="178.66" y="453.29" transform="translate(178.66 453.29) rotate(321.56) translate(-178.66 -453.29)" text-anchor="end" dy="2.19" fill="#d4b42c" stroke="#d4b42c" stroke-width="0.17" font-size="7.80" letter-spacing="-0.29">VC06-C08/V9</text>
<text x="173.03" y="445.92" transform="translate(173.03 445.92) rotate(323.70) translate(-173.03 -445.92)" text-anchor="end" dy="2.19" fill="#d4b42c" stroke="#d4b42c" stroke-width="0.17" font-size="7.80" letter-spacing="-0.29">VC06-C09/V9</text>
<text x="167.68" y="438.34" transform="translate(167.68 438.34) rotate(325.84) translate(-167.68 -438.34)" text-anchor="end" dy="2.19" fill="#d4b42c" stroke="#d4b42c" stroke-width="0.17" font-size="7.80" letter-spacing="-0.29">VC06-C13/V9</text>
<text x="162.61" y="430.56" transform="translate(162.61 430.56) rotate(327.99) translate(-162.61 -430.56)" text-anchor="end" dy="2.19" fill="#d4b42c" stroke="#d4b42c" stroke-width="0.17" font-size="7.80" letter-spacing="-0.29">VC06-T05/V9</text>
<text x="157.84" y="422.60" transform="translate(157.84 422.60) rotate(330.13) translate(-157.84 -422.60)" text-anchor="end" dy="2.19" fill="#d4b42c" stroke="#d4b42c" stroke-width="0.17" font-size="7.80" letter-spacing="-0.29">VC06-T08/V9</text>
<text x="153.37" y="414.47" transform="translate(153.37 414.47) rotate(332.28) translate(-153.37 -414.47)" text-anchor="end" dy="2.19" fill="#d4b42c" stroke="#d4b42c" stroke-width="0.17" font-size="7.80" letter-spacing="-0.29">VC06-T02/V9</text>
<text x="149.21" y="406.18" transform="translate(149.21 406.18) rotate(334.42) translate(-149.21 -406.18)" text-anchor="end" dy="2.19" fill="#ff9a3c" stroke="#ff9a3c" stroke-width="0.17" font-size="7.80" letter-spacing="-0.29">VC06-E03/V14</text>
<text x="145.36" y="397.74" transform="translate(145.36 397.74) rotate(336.56) translate(-145.36 -397.74)" text-anchor="end" dy="2.19" fill="#e8222c" stroke="#e8222c" stroke-width="0.17" font-size="7.80" letter-spacing="-0.29">VC06-E14/V16</text>
<text x="138.57" y="390.42" transform="translate(138.57 390.42) rotate(338.71) translate(-138.57 -390.42)" text-anchor="end" dy="2.19" fill="#d4b42c" stroke="#d4b42c" stroke-width="0.17" font-size="7.80" letter-spacing="-0.29">VC06-C02/V9</text>
<text x="135.31" y="381.59" transform="translate(135.31 381.59) rotate(340.85) translate(-135.31 -381.59)" text-anchor="end" dy="2.19" fill="#d4b42c" stroke="#d4b42c" stroke-width="0.17" font-size="7.80" letter-spacing="-0.29">VC06-C14/V9</text>
<text x="137.94" y="370.95" transform="translate(137.94 370.95) rotate(343.00) translate(-137.94 -370.95)" text-anchor="end" dy="2.19" fill="#d4b42c" stroke="#d4b42c" stroke-width="0.17" font-size="7.80" letter-spacing="0.25">VC06-PLASMA/V9</text>
<text x="130.29" y="363.47" transform="translate(130.29 363.47) rotate(345.14) translate(-130.29 -363.47)" text-anchor="end" dy="2.19" fill="#d4b42c" stroke="#d4b42c" stroke-width="0.17" font-size="7.80" letter-spacing="-0.29">VC06-C05/V9</text>
<text x="117.42" y="356.75" transform="translate(117.42 356.75) rotate(347.28) translate(-117.42 -356.75)" text-anchor="end" dy="2.19" fill="#d4b42c" stroke="#d4b42c" stroke-width="0.17" font-size="7.80" letter-spacing="-0.29">VC06-C15/V9</text>
<text x="124.49" y="345.46" transform="translate(124.49 345.46) rotate(349.43) translate(-124.49 -345.46)" text-anchor="end" dy="2.19" fill="#d4b42c" stroke="#d4b42c" stroke-width="0.17" font-size="7.80" letter-spacing="-0.29">VC06-T12/V9</text>
<text x="143.70" y="333.06" transform="translate(143.70 333.06) rotate(351.57) translate(-143.70 -333.06)" text-anchor="end" dy="2.19" fill="#111" stroke="#111" stroke-width="0.17" font-size="7.80" letter-spacing="-0.39">Ref.D.CD.83.ELI.K03454</text>
<text x="176.88" y="320.68" transform="translate(176.88 320.68) rotate(353.72) translate(-176.88 -320.68)" text-anchor="end" dy="2.19" fill="#111" stroke="#111" stroke-width="0.17" font-size="7.80" letter-spacing="-0.29">Ref.F1.BE.93.VI850.AF07733<tspan dx="1.4">6</tspan></text>
<text x="101.81" y="318.72" transform="translate(101.81 318.72) rotate(355.86) translate(-101.81 -318.72)" text-anchor="end" dy="2.19" fill="#111" stroke="#111" stroke-width="0.17" font-size="7.80" letter-spacing="-0.29">Ref.F1.BR.93.93BR020_1.AF005494</text>
<path d="M596.6 515.2H633.2" stroke="#333" stroke-width="0.8" fill="none"/>
<text x="615.4" y="525.4" text-anchor="middle" font-size="9.9" fill="#151515" letter-spacing="-0.1">0.003</text>
<text x="65.2" y="400.6" text-anchor="middle" font-size="16.5" font-weight="bold" fill="#000">*</text>
<text x="456.7" y="610.0" text-anchor="middle" font-size="16.5" font-weight="bold" fill="#000">*</text>
<text x="269.5" y="307.4" transform="rotate(-4 269.5 307.4)" text-anchor="middle" font-size="6.8" fill="#111">99</text>
<text x="492.8" y="274.3" transform="rotate(0 492.8 274.3)" text-anchor="middle" font-size="6.8" fill="#111">85</text>
<text x="434.9" y="105.6" transform="rotate(-75 434.9 105.6)" text-anchor="middle" font-size="6.8" fill="#111">98</text>
<text x="430.9" y="93.7" transform="rotate(-75 430.9 93.7)" text-anchor="middle" font-size="6.8" fill="#111">71</text>
<text x="382.2" y="519.5" transform="rotate(-90 382.2 519.5)" text-anchor="middle" font-size="6.8" fill="#111">100</text>
<text x="597.0" y="279.0" transform="rotate(0 597.0 279.0)" text-anchor="middle" font-size="6.8" fill="#111">87</text>
<text x="367.8" y="554.8" transform="rotate(-90 367.8 554.8)" text-anchor="middle" font-size="6.8" fill="#111">95</text>
<defs>
<linearGradient id="cf" x1="0" y1="0" x2="0" y2="1"><stop offset="0" stop-color="#b9f6ff"/><stop offset="1" stop-color="#98e1ec"/></linearGradient>
<linearGradient id="cs" x1="0" y1="0" x2="0" y2="1"><stop offset="0" stop-color="#739fa7"/><stop offset="1" stop-color="#5b8a92"/></linearGradient>
<linearGradient id="pf" x1="0" y1="0" x2="0" y2="1"><stop offset="0" stop-color="#ffc9d3"/><stop offset="1" stop-color="#e9a3b1"/></linearGradient>
<linearGradient id="ps" x1="0" y1="0" x2="0" y2="1"><stop offset="0" stop-color="#a98289"/><stop offset="1" stop-color="#8f636b"/></linearGradient>
<linearGradient id="fl" x1="0" y1="0" x2="1" y2="0"><stop offset="0" stop-color="#000"/><stop offset="0.25" stop-color="#333"/><stop offset="0.7" stop-color="#fff"/><stop offset="0.85" stop-color="#fff"/><stop offset="1" stop-color="#555"/></linearGradient>
<linearGradient id="fl0" x1="0" y1="0" x2="1" y2="0"><stop offset="0" stop-color="#fff"/><stop offset="0.6" stop-color="#fff"/><stop offset="1" stop-color="#333"/></linearGradient>
<filter id="sh" x="-20%" y="-20%" width="150%" height="170%"><feGaussianBlur in="SourceAlpha" stdDeviation="0.9"/><feOffset dx="0" dy="1.2"/><feComponentTransfer><feFuncA type="linear" slope="0.45"/></feComponentTransfer><feMerge><feMergeNode/><feMergeNode in="SourceGraphic"/></feMerge></filter>
<filter id="tsh" x="-5%" y="-20%" width="110%" height="150%"><feGaussianBlur in="SourceAlpha" stdDeviation="0.7"/><feOffset dx="0.4" dy="0.8"/><feComponentTransfer><feFuncA type="linear" slope="0.35"/></feComponentTransfer><feMerge><feMergeNode/><feMergeNode in="SourceGraphic"/></feMerge></filter>
</defs>
<path d="M261.6 710.8L273.4 701.9H668.6M261.6 739.8L273.4 730.9H668.6M261.6 768.9L273.4 760.0H668.6M261.6 797.9L273.4 789.0H668.6M261.6 827.0L273.4 818.1H668.6M261.6 856.0L273.4 847.1H668.6" fill="none" stroke="#d6d6d6" stroke-width="1"/>
<linearGradient id="flp" gradientUnits="userSpaceOnUse" x1="277.4" y1="0" x2="343.2" y2="0" spreadMethod="repeat"><stop offset="0" stop-color="#303030"/><stop offset="0.5" stop-color="#000"/><stop offset="0.62" stop-color="#1c1c1c"/><stop offset="0.72" stop-color="#888"/><stop offset="0.82" stop-color="#fff"/><stop offset="0.87" stop-color="#fff"/><stop offset="0.93" stop-color="#9a9a9a"/><stop offset="1" stop-color="#303030"/></linearGradient>
<g transform="translate(0 856.0) skewX(-52.975) translate(0 -856.0)"><rect x="261.6" y="847.1" width="395.2" height="8.9" fill="url(#flp)"/></g>
<path d="M261.6 856.0L273.40000000000003 847.1" stroke="#d0d0d0" stroke-width="1" fill="none"/>
<path d="M311.0 856.0H312.0L323.8 847.1V701.9L312.0 710.8H311.0Z" fill="url(#cs)"/>
<rect x="277.4" y="710.8" width="34.6" height="145.2" fill="url(#cf)"/>
<path d="M277.4 710.8L289.2 701.9H323.8L312.0 710.8Z" fill="#8cbac2"/>
<path d="M376.8 856.0H377.8L389.6 847.1V701.9L377.8 710.8H376.8Z" fill="url(#cs)"/>
<rect x="343.2" y="710.8" width="34.6" height="145.2" fill="url(#cf)"/>
<path d="M343.2 710.8L355.0 701.9H389.6L377.8 710.8Z" fill="#8cbac2"/>
<path d="M442.6 856.0H443.6L455.4 847.1V724.6L443.6 733.5H442.6Z" fill="url(#cs)"/>
<rect x="409.0" y="733.5" width="34.6" height="122.5" fill="url(#cf)"/>
<path d="M442.6 733.5H443.6L455.4 724.6V701.9L443.6 710.8H442.6Z" fill="url(#ps)"/>
<rect x="409.0" y="710.8" width="34.6" height="22.7" fill="url(#pf)"/>
<path d="M409.0 710.8L420.8 701.9H455.4L443.6 710.8Z" fill="#b8929b"/>
<path d="M508.4 856.0H509.4L521.2 847.1V836.3L509.4 845.2H508.4Z" fill="url(#cs)"/>
<rect x="474.8" y="845.2" width="34.6" height="10.8" fill="url(#cf)"/>
<path d="M508.4 845.2H509.4L521.2 836.3V701.9L509.4 710.8H508.4Z" fill="url(#ps)"/>
<rect x="474.8" y="710.8" width="34.6" height="134.4" fill="url(#pf)"/>
<path d="M474.8 710.8L486.6 701.9H521.2L509.4 710.8Z" fill="#b8929b"/>
<path d="M574.2 856.0H575.2L587.0 847.1V836.7L575.2 845.6H574.2Z" fill="url(#cs)"/>
<rect x="540.6" y="845.6" width="34.6" height="10.4" fill="url(#cf)"/>
<path d="M574.2 845.6H575.2L587.0 836.7V701.9L575.2 710.8H574.2Z" fill="url(#ps)"/>
<rect x="540.6" y="710.8" width="34.6" height="134.8" fill="url(#pf)"/>
<path d="M540.6 710.8L552.4 701.9H587.0L575.2 710.8Z" fill="#b8929b"/>
<path d="M640.0 856.0H641.0L652.8 847.1V810.8L641.0 819.7H640.0Z" fill="url(#cs)"/>
<rect x="606.4" y="819.7" width="34.6" height="36.3" fill="url(#cf)"/>
<path d="M640.0 819.7H641.0L652.8 810.8V701.9L641.0 710.8H640.0Z" fill="url(#ps)"/>
<rect x="606.4" y="710.8" width="34.6" height="108.9" fill="url(#pf)"/>
<path d="M606.4 710.8L618.2 701.9H652.8L641.0 710.8Z" fill="#b8929b"/>
<text x="247.6" y="716.1" text-anchor="end" font-size="14.6" fill="#111" transform="translate(247.6 0) scale(0.9 1) translate(-247.6 0)" filter="url(#tsh)">100%</text>
<text x="247.6" y="745.1" text-anchor="end" font-size="14.6" fill="#111" transform="translate(247.6 0) scale(0.9 1) translate(-247.6 0)" filter="url(#tsh)">80%</text>
<text x="247.6" y="774.2" text-anchor="end" font-size="14.6" fill="#111" transform="translate(247.6 0) scale(0.9 1) translate(-247.6 0)" filter="url(#tsh)">60%</text>
<text x="247.6" y="803.2" text-anchor="end" font-size="14.6" fill="#111" transform="translate(247.6 0) scale(0.9 1) translate(-247.6 0)" filter="url(#tsh)">40%</text>
<text x="247.6" y="832.3" text-anchor="end" font-size="14.6" fill="#111" transform="translate(247.6 0) scale(0.9 1) translate(-247.6 0)" filter="url(#tsh)">20%</text>
<text x="247.6" y="861.3" text-anchor="end" font-size="14.6" fill="#111" transform="translate(247.6 0) scale(0.9 1) translate(-247.6 0)" filter="url(#tsh)">0%</text>
<g filter="url(#tsh)"><text x="316.8" y="676.2" font-size="15.9" font-weight="bold" fill="#000" textLength="255.6" lengthAdjust="spacingAndGlyphs">B<tspan font-size="10.5" dy="3">1</tspan><tspan dy="-3">/B</tspan><tspan font-size="10.5" dy="3">2</tspan><tspan dy="-3"> Frequencies across the visits</tspan></text></g>
<text x="288.8" y="890.3" transform="rotate(-90 288.8 890.3)" text-anchor="middle" font-size="14" font-weight="bold" fill="#6849ff">V1<tspan font-size="9.3" dy="3">2009</tspan></text>
<text x="307.0" y="890" transform="rotate(-90 307.0 890)" text-anchor="middle" font-size="14" font-weight="bold" fill="#6849ff">(n=29)</text>
<text x="354.1" y="890.3" transform="rotate(-90 354.1 890.3)" text-anchor="middle" font-size="14" font-weight="bold" fill="#45daff">V3<tspan font-size="9.3" dy="3">2010</tspan></text>
<text x="372.3" y="890" transform="rotate(-90 372.3 890)" text-anchor="middle" font-size="14" font-weight="bold" fill="#45daff">(n=43)</text>
<text x="419.4" y="890.3" transform="rotate(-90 419.4 890.3)" text-anchor="middle" font-size="14" font-weight="bold" fill="#ff7ade">V4<tspan font-size="9.3" dy="3">2011</tspan></text>
<text x="437.6" y="890" transform="rotate(-90 437.6 890)" text-anchor="middle" font-size="14" font-weight="bold" fill="#ff7ade">(n=32)</text>
<text x="484.7" y="890.3" transform="rotate(-90 484.7 890.3)" text-anchor="middle" font-size="14" font-weight="bold" fill="#e6d052">V9<tspan font-size="9.3" dy="3">2014</tspan></text>
<text x="502.9" y="890" transform="rotate(-90 502.9 890)" text-anchor="middle" font-size="14" font-weight="bold" fill="#e6d052">(n=27)</text>
<text x="550.0" y="890.3" transform="rotate(-90 550.0 890.3)" text-anchor="middle" font-size="14" font-weight="bold" fill="#ffb57a">V14<tspan font-size="9.3" dy="3">2016</tspan></text>
<text x="568.2" y="890" transform="rotate(-90 568.2 890)" text-anchor="middle" font-size="14" font-weight="bold" fill="#ffb57a">(n=14)</text>
<text x="615.3" y="890.3" transform="rotate(-90 615.3 890.3)" text-anchor="middle" font-size="14" font-weight="bold" fill="#ff2a5c">V16<tspan font-size="9.3" dy="3">2017</tspan></text>
<text x="633.5" y="890" transform="rotate(-90 633.5 890)" text-anchor="middle" font-size="14" font-weight="bold" fill="#ff2a5c">(n=12)</text>
<rect x="48.4" y="703.1" width="18.6" height="11.1" fill="#5a3cff" filter="url(#sh)"/>
<g filter="url(#tsh)"><text x="73.4" y="715.7" font-size="16.3" fill="#000" textLength="43.5" lengthAdjust="spacingAndGlyphs">V1<tspan font-size="11.6" dy="4.4">2009</tspan></text></g>
<rect x="48.4" y="725.4" width="18.6" height="11.1" fill="#3dd8ff" filter="url(#sh)"/>
<g filter="url(#tsh)"><text x="73.4" y="737.4" font-size="16.3" fill="#000" textLength="43.5" lengthAdjust="spacingAndGlyphs">V3<tspan font-size="11.6" dy="4.4">2010</tspan></text></g>
<rect x="48.4" y="746.9" width="18.6" height="11.1" fill="#ff5cff" filter="url(#sh)"/>
<g filter="url(#tsh)"><text x="73.4" y="759.1" font-size="16.3" fill="#000" textLength="43.2" lengthAdjust="spacingAndGlyphs">V4<tspan font-size="11.6" dy="4.4">2011</tspan></text></g>
<rect x="48.4" y="769.9" width="18.6" height="11.1" fill="#cccc00" filter="url(#sh)"/>
<g filter="url(#tsh)"><text x="73.4" y="780.8" font-size="16.3" fill="#000" textLength="43.5" lengthAdjust="spacingAndGlyphs">V9<tspan font-size="11.6" dy="4.4">2014</tspan></text></g>
<rect x="48.4" y="790.7" width="18.6" height="11.1" fill="#ffa428" filter="url(#sh)"/>
<g filter="url(#tsh)"><text x="73.4" y="802.5" font-size="16.3" fill="#000" textLength="52.6" lengthAdjust="spacingAndGlyphs">V14<tspan font-size="11.6" dy="4.4">2016</tspan></text></g>
<rect x="48.4" y="812.4" width="18.6" height="11.1" fill="#ff0000" filter="url(#sh)"/>
<g filter="url(#tsh)"><text x="73.4" y="824.2" font-size="16.3" fill="#000" textLength="52.6" lengthAdjust="spacingAndGlyphs">V16<tspan font-size="11.6" dy="4.4">2017</tspan></text></g>
<rect x="48.2" y="846.6" width="18.4" height="11.1" fill="#ccffff" filter="url(#sh)"/>
<g filter="url(#tsh)"><text x="73.8" y="858.6" font-size="16.3" fill="#000" textLength="70.7" lengthAdjust="spacingAndGlyphs">B<tspan font-size="11" dy="3.5">1</tspan><tspan dy="-3.5"> Variant</tspan></text></g>
<rect x="48.2" y="868.0" width="18.4" height="11.1" fill="#ffb3b3" filter="url(#sh)"/>
<g filter="url(#tsh)"><text x="73.8" y="880.2" font-size="16.3" fill="#000" textLength="70.7" lengthAdjust="spacingAndGlyphs">B<tspan font-size="11" dy="3.5">2</tspan><tspan dy="-3.5"> Variant</tspan></text></g>
<g filter="url(#tsh)"><text x="73.8" y="902.1" font-size="16.3" fill="#000" textLength="133.4" lengthAdjust="spacingAndGlyphs">Plasma Sequences</text></g>
<text x="57.3" y="911.5" text-anchor="middle" font-size="30" font-weight="bold" fill="#000">*</text>
</svg>
</body></html>
